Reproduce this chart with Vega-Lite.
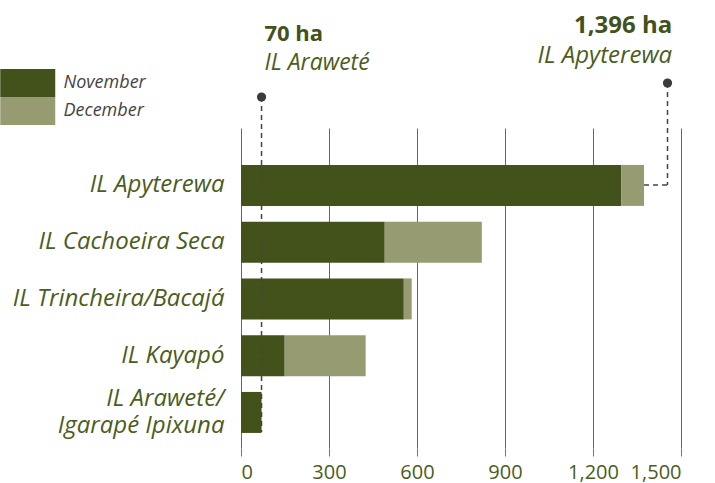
{
  "$schema": "https://vega.github.io/schema/vega-lite/v6.json",
  "autosize": {"type": "none"},
  "padding": {"left": 241, "top": 128, "right": 34, "bottom": 35},
  "width": 440,
  "height": 320,
  "background": "white",
  "config": {"view": {"stroke": null}, "font": "Open Sans"},
  "datasets": {
    "bars": [
      {"land": "IL Apyterewa", "month": "November", "ha": 1296},
      {"land": "IL Apyterewa", "month": "December", "ha": 78},
      {"land": "IL Cachoeira Seca", "month": "November", "ha": 490},
      {"land": "IL Cachoeira Seca", "month": "December", "ha": 331},
      {"land": "IL Trincheira/Bacajá", "month": "November", "ha": 555},
      {"land": "IL Trincheira/Bacajá", "month": "December", "ha": 27},
      {"land": "IL Kayapó", "month": "November", "ha": 149},
      {"land": "IL Kayapó", "month": "December", "ha": 276},
      {"land": "IL Araweté/ Igarapé Ipixuna", "month": "November", "ha": 70},
      {"land": "IL Araweté/ Igarapé Ipixuna", "month": "December", "ha": 0}
    ],
    "one": [{}]
  },
  "layer": [
    {
      "data": {"name": "bars"},
      "mark": {"type": "bar"},
      "encoding": {
        "y": {
          "field": "land", "type": "nominal",
          "sort": ["IL Apyterewa", "IL Cachoeira Seca", "IL Trincheira/Bacajá", "IL Kayapó", "IL Araweté/ Igarapé Ipixuna"],
          "scale": {"paddingInner": 0.278, "paddingOuter": 0.458, "align": 0.71},
          "axis": {
            "title": null, "ticks": false, "domain": false,
            "labelFont": "Open Sans", "labelFontStyle": "italic", "labelFontSize": 24,
            "labelColor": "#4b5d1c", "labelPadding": 17, "labelLimit": 300,
            "labelLineHeight": 27,
            "labelOffset": {"condition": {"test": "datum.value == 'IL Araweté/ Igarapé Ipixuna'", "value": -13}, "value": 0},
            "labelExpr": "datum.label == 'IL Araweté/ Igarapé Ipixuna' ? ['IL Araweté/', 'Igarapé Ipixuna'] : datum.label"
          }
        },
        "x": {
          "field": "ha", "type": "quantitative", "stack": "zero",
          "scale": {"domain": [0, 1500], "nice": false},
          "axis": {
            "title": null, "values": [0, 300, 600, 900, 1200, 1500],
            "format": ",d", "domain": false,
            "grid": true, "gridColor": "#666666", "gridWidth": 1,
            "tickColor": "#777777", "tickSize": 8,
            "labelFont": "Open Sans", "labelFontSize": 20, "labelColor": "#4b5d1c",
            "labelPadding": 6
          }
        },
        "color": {
          "field": "month", "type": "nominal",
          "sort": ["November", "December"],
          "scale": {"domain": ["November", "December"], "range": ["#43511a", "#979b72"]},
          "legend": {
            "title": null, "orient": "none", "legendX": -227.25, "legendY": -59,
            "symbolType": "M-2,-1.018H2V1.018H-2Z", "symbolSize": 756.25,
            "symbolStrokeWidth": 0, "symbolOpacity": 1,
            "labelFont": "Open Sans", "labelFontStyle": "italic", "labelFontSize": 18,
            "labelColor": "#444444", "labelOffset": 21.75, "rowPadding": 0, "padding": 0
          }
        },
        "order": {"field": "month", "sort": "descending"}
      }
    },
    {
      "data": {"name": "one"},
      "mark": {"type": "rule", "strokeDash": [5, 4], "strokeWidth": 1.5, "color": "#444444"},
      "encoding": {
        "x": {"datum": 70, "type": "quantitative"},
        "y": {"value": -31},
        "y2": {"value": 304}
      }
    },
    {
      "data": {"name": "one"},
      "mark": {"type": "rule", "strokeDash": [5, 4], "strokeWidth": 1.5, "color": "#444444"},
      "encoding": {
        "x": {"datum": 1454, "type": "quantitative"},
        "y": {"value": -45},
        "y2": {"value": 57}
      }
    },
    {
      "data": {"name": "one"},
      "mark": {"type": "rule", "strokeDash": [5, 4], "strokeWidth": 1.5, "color": "#444444"},
      "encoding": {
        "x": {"datum": 1374, "type": "quantitative"},
        "x2": {"datum": 1454},
        "y": {"value": 57}
      }
    },
    {
      "data": {"name": "one"},
      "mark": {"type": "point", "filled": true, "size": 85, "color": "#3d3a38", "opacity": 1},
      "encoding": {
        "x": {"datum": 70, "type": "quantitative"},
        "y": {"value": -31}
      }
    },
    {
      "data": {"name": "one"},
      "mark": {"type": "point", "filled": true, "size": 85, "color": "#3d3a38", "opacity": 1},
      "encoding": {
        "x": {"datum": 1454, "type": "quantitative"},
        "y": {"value": -45}
      }
    },
    {
      "data": {"name": "one"},
      "mark": {"type": "text", "align": "left", "baseline": "alphabetic", "font": "Open Sans", "fontWeight": "bold", "fontSize": 22, "color": "#43511a"},
      "encoding": {
        "x": {"datum": 80, "type": "quantitative"},
        "y": {"value": -87},
        "text": {"value": "70 ha"}
      }
    },
    {
      "data": {"name": "one"},
      "mark": {"type": "text", "align": "left", "baseline": "alphabetic", "font": "Open Sans", "fontStyle": "italic", "fontSize": 23, "color": "#4b5d1c"},
      "encoding": {
        "x": {"datum": 80, "type": "quantitative"},
        "y": {"value": -58},
        "text": {"value": "IL Araweté"}
      }
    },
    {
      "data": {"name": "one"},
      "mark": {"type": "text", "align": "right", "baseline": "alphabetic", "font": "Open Sans", "fontWeight": "bold", "fontSize": 24, "color": "#43511a"},
      "encoding": {
        "x": {"datum": 1470, "type": "quantitative"},
        "y": {"value": -95},
        "text": {"value": "1,396 ha"}
      }
    },
    {
      "data": {"name": "one"},
      "mark": {"type": "text", "align": "right", "baseline": "alphabetic", "font": "Open Sans", "fontStyle": "italic", "fontSize": 24, "color": "#4b5d1c"},
      "encoding": {
        "x": {"datum": 1470, "type": "quantitative"},
        "y": {"value": -65},
        "text": {"value": "IL Apyterewa"}
      }
    }
  ]
}
